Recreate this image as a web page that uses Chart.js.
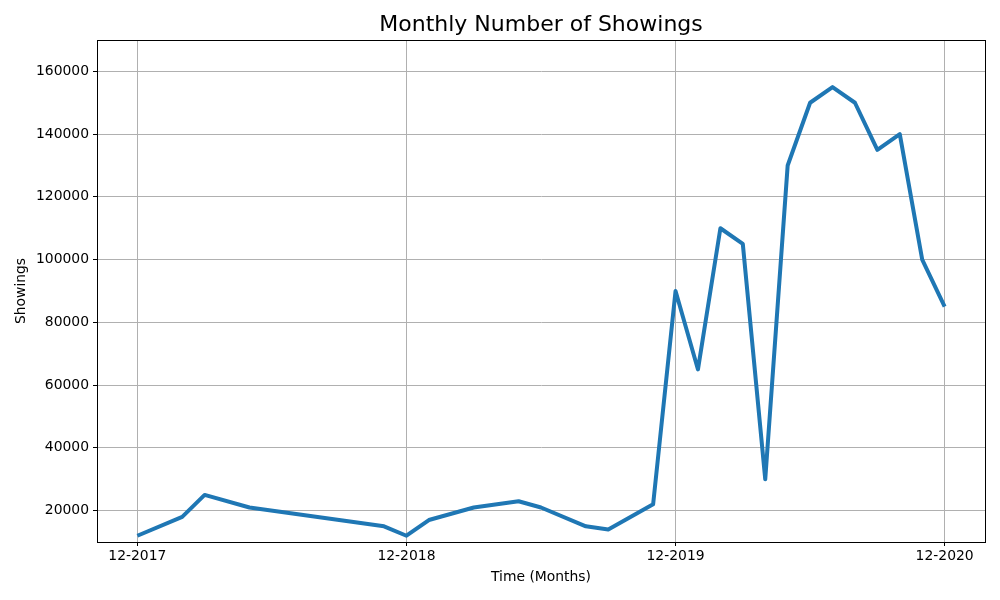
<!DOCTYPE html>
<html>
<head>
<meta charset="utf-8">
<script src="https://cdn.jsdelivr.net/npm/chart.js@4/dist/chart.umd.min.js"></script>
<style>
  html, body { margin: 0; padding: 0; background: #fff; }
  #wrap { width: 1000px; height: 600px; }
</style>
</head>
<body>
<div id="wrap"><canvas id="showings-chart" width="1000" height="600"></canvas></div>
<script>
// months counted from 12-2017
var monthIndex = [0, 2, 3, 5, 11, 12, 13, 15, 17, 18, 20, 21, 23, 24, 25, 26, 27, 28, 29, 30, 31, 32, 33, 34, 35, 36];
var showings = [12000, 18000, 25000, 21000, 15000, 12000, 17000, 21000, 23000, 21000, 15000, 14000, 22000,
  90000, 65000, 110000, 105000, 30000, 130000, 150000, 155000, 150000, 135000, 140000, 100000, 85000];
var xTickValues = [0, 12, 24, 36];
var xTickLabels = ["12-2017", "12-2018", "12-2019", "12-2020"];
var yTickValues = [20000, 40000, 60000, 80000, 100000, 120000, 140000, 160000];

var tickFont = { family: 'DejaVu Sans', size: 13.9 };

var frameAndTitle = {
  id: 'frameAndTitle',
  afterDraw: function (chart) {
    var ctx = chart.ctx, a = chart.chartArea;
    ctx.save();
    ctx.strokeStyle = '#000';
    ctx.lineWidth = 1;
    ctx.strokeRect(Math.round(a.left) + 0.5, Math.round(a.top) + 0.5, Math.round(a.right - a.left), Math.round(a.bottom - a.top));
    ctx.fillStyle = '#000';
    ctx.font = '22px "DejaVu Sans"';
    ctx.textAlign = 'center';
    ctx.textBaseline = 'middle';
    ctx.fillText('Monthly Number of Showings', (a.left + a.right) / 2, 25.5);
    ctx.restore();
  }
};

new Chart(document.getElementById('showings-chart'), {
  type: 'line',
  data: {
    datasets: [{
      label: 'Showings',
      data: monthIndex.map(function (m, i) { return { x: m, y: showings[i] }; }),
      borderColor: '#1f77b4',
      borderWidth: 4,
      pointRadius: 0,
      tension: 0,
      borderJoinStyle: 'round',
      fill: false
    }]
  },
  options: {
    responsive: false,
    animation: false,
    layout: { padding: { top: 40, right: 15, left: 0, bottom: 0 } },
    plugins: {
      legend: { display: false },
      tooltip: { enabled: false }
    },
    scales: {
      x: {
        type: 'linear',
        min: -1.8,
        max: 37.8,
        afterBuildTicks: function (scale) {
          scale.ticks = xTickValues.map(function (v) { return { value: v }; });
        },
        afterFit: function (scale) { scale.height = 58; },
        ticks: {
          color: '#000',
          font: tickFont,
          padding: 2,
          maxRotation: 0,
          callback: function (v) { return xTickLabels[xTickValues.indexOf(v)]; }
        },
        grid: { color: '#b0b0b0', lineWidth: 1, tickColor: '#000', tickLength: 4 },
        border: { color: '#000', width: 1 },
        title: { display: true, text: 'Time (Months)', color: '#000', font: tickFont, padding: { top: 2, bottom: 14 } }
      },
      y: {
        min: 10000,
        max: 170000,
        afterBuildTicks: function (scale) {
          scale.ticks = yTickValues.map(function (v) { return { value: v }; });
        },
        afterFit: function (scale) { scale.width = 97; },
        ticks: {
          color: '#000',
          font: tickFont,
          padding: 4,
          callback: function (v) { return String(v); }
        },
        grid: { color: '#b0b0b0', lineWidth: 1, tickColor: '#000', tickLength: 4 },
        border: { color: '#000', width: 1 },
        title: { display: true, text: 'Showings', color: '#000', font: tickFont, padding: { top: 13, bottom: 0 } }
      }
    }
  },
  plugins: [frameAndTitle]
});
</script>
</body>
</html>
